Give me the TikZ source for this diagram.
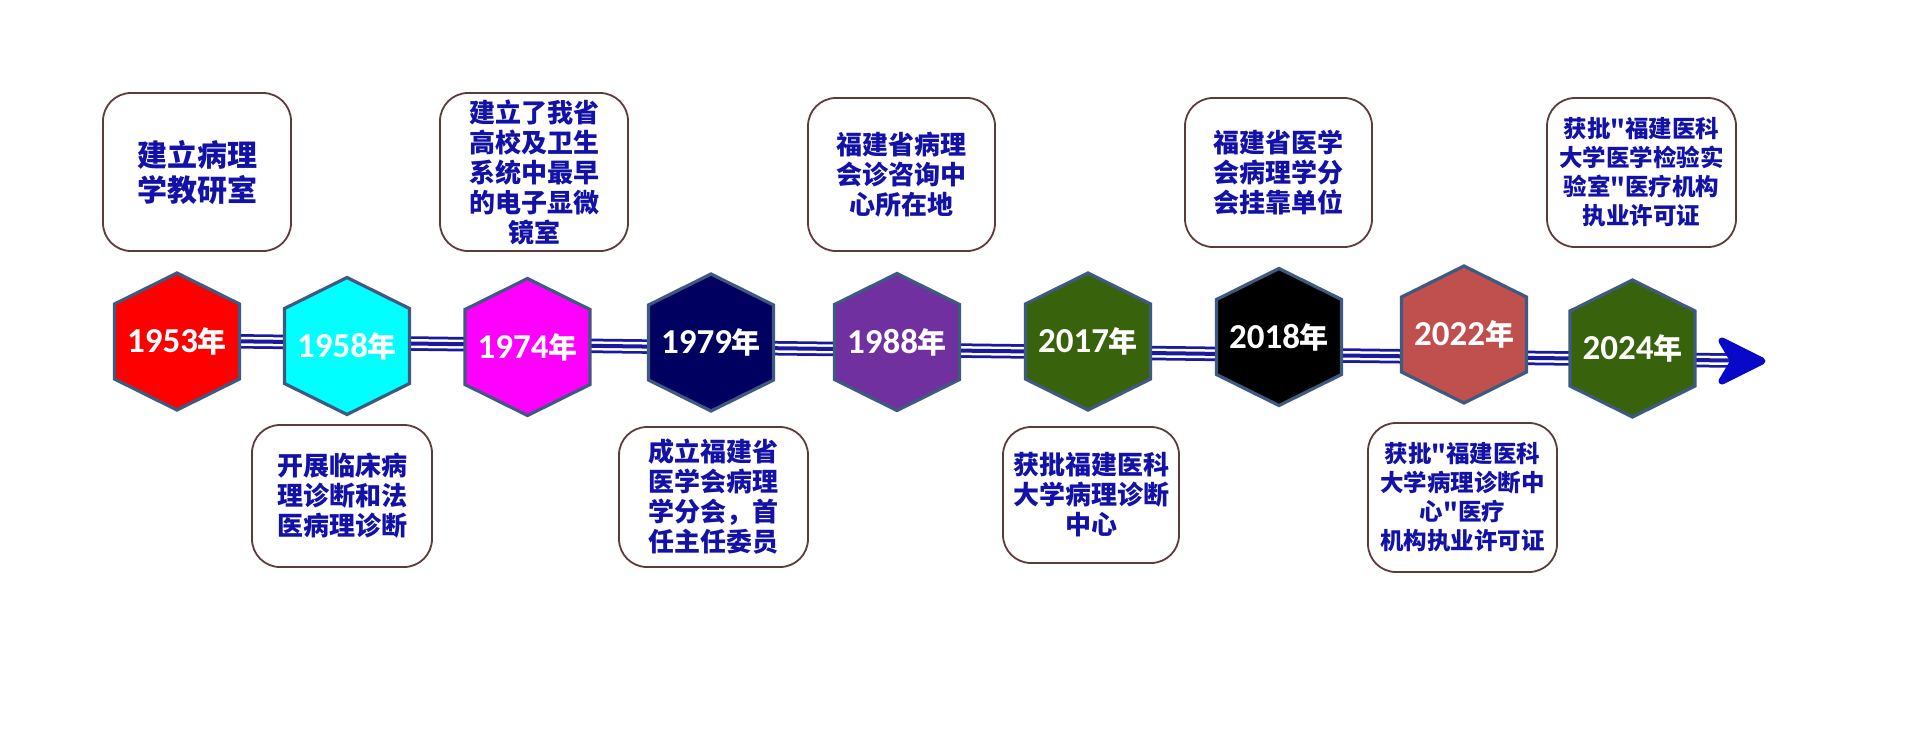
\documentclass[tikz,border=0pt]{standalone}
\usepackage{fontspec}
\newfontfamily\cjkfont{Noto Sans CJK SC}
\newfontfamily\digitfont{Carlito Bold}
\pgfdeclarelayer{tline}
\pgfdeclarelayer{hexlayer}
\pgfsetlayers{tline,hexlayer,main}
\definecolor{txtblue}{HTML}{1212A8}
\definecolor{boxbrd}{HTML}{5C3B3B}
\definecolor{hexbrd}{HTML}{3E5A80}
\definecolor{lineblue}{HTML}{1A1AA0}
\definecolor{arrowblue}{HTML}{0808C8}
\definecolor{hred}{HTML}{FF0000}
\definecolor{hcyan}{HTML}{00FFFF}
\definecolor{hmag}{HTML}{FF00FF}
\definecolor{hnavy}{HTML}{000060}
\definecolor{hpurple}{HTML}{7030A0}
\definecolor{hgreen}{HTML}{38620B}
\definecolor{hblack}{HTML}{000000}
\definecolor{hbrick}{HTML}{C0504D}
\newcommand\yrtext[1]{{\digitfont\fontsize{17.5}{20}\selectfont #1}{\cjkfont\bfseries\fontsize{14.5}{20}\selectfont 年}}
\newcommand\hexfor[2]{\begin{pgfonlayer}{hexlayer}\draw[hexline, fill=#2] (#1.center) +(0,-68.5) -- +(62.5,-37.5) -- +(62.5,37.5) -- +(0,68.5) -- +(-62.5,37.5) -- +(-62.5,-37.5) -- cycle;\end{pgfonlayer}}
\begin{document}
\begin{tikzpicture}[x=0.5pt,y=-0.5pt,
  evbox/.style={draw=boxbrd, line width=0.9pt, fill=white, rounded corners=14pt, text=txtblue,
    font=\cjkfont\bfseries\fontsize{13}{15}\selectfont, align=center, inner sep=0pt},
  bigtext/.style={font=\cjkfont\bfseries\fontsize{15}{17.5}\selectfont},
  smalltext/.style={font=\cjkfont\bfseries\fontsize{11.75}{14.5}\selectfont},
  yearlbl/.style={text=white, inner sep=0pt, align=center},
  hexline/.style={draw=hexbrd, line width=1.6pt, line join=miter},
  tripleline/.style={draw=lineblue, line width=7.25pt,
    postaction={draw=white, line width=4.5pt},
    postaction={draw=lineblue, line width=2pt}},
  arrowhd/.style={fill=arrowblue, draw=arrowblue, line width=3.5pt, line join=round}]
\begin{pgfonlayer}{tline}
\path[fill=white, use as bounding box] (0,0) rectangle (1920,730);
\end{pgfonlayer}

% year hexagons
\node[yearlbl] (y1953) at (177,341.5) {\yrtext{1953}};
\node[yearlbl] (y1958) at (347,346) {\yrtext{1958}};
\node[yearlbl] (y1974) at (527.5,347) {\yrtext{1974}};
\node[yearlbl] (y1979) at (711,342.5) {\yrtext{1979}};
\node[yearlbl] (y1988) at (897,342) {\yrtext{1988}};
\node[yearlbl] (y2017) at (1088,341.5) {\yrtext{2017}};
\node[yearlbl] (y2018) at (1279,337) {\yrtext{2018}};
\node[yearlbl] (y2022) at (1464,334.5) {\yrtext{2022}};
\node[yearlbl] (y2024) at (1632.5,348.5) {\yrtext{2024}};
\hexfor{y1953}{hred}
\hexfor{y1958}{hcyan}
\hexfor{y1974}{hmag}
\hexfor{y1979}{hnavy}
\hexfor{y1988}{hpurple}
\hexfor{y2017}{hgreen}
\hexfor{y2018}{hblack}
\hexfor{y2022}{hbrick}
\hexfor{y2024}{hgreen}

% timeline
\coordinate (tlstart) at (177,340.5);
\coordinate (tlend) at (1738,360.6);
\coordinate (tip) at (1766,361);
\begin{pgfonlayer}{tline}
\draw[tripleline] (tlstart) -- (tlend);
\end{pgfonlayer}
\path[arrowhd] (tip) +(-4,0) -- +(-44,-20) -- +(-32,0) -- +(-44,20) -- cycle;

% event boxes
\node[evbox, bigtext, minimum width=94pt, minimum height=79pt] (b1953) at (197,172) {建立病理\\学教研室};
\node[evbox, minimum width=90pt, minimum height=71pt] (b1958) at (342,496) {开展临床病\\理诊断和法\\医病理诊断};
\node[evbox, minimum width=94pt, minimum height=79pt] (b1974) at (534,172) {建立了我省\\高校及卫生\\系统中最早\\的电子显微\\镜室};
\node[evbox, minimum width=94.5pt, minimum height=70pt] (b1979) at (713.5,497) {成立福建省\\医学会病理\\学分会，首\\任主任委员};
\node[evbox, minimum width=93.5pt, minimum height=76.5pt] (b1988) at (901.5,174.5) {福建省病理\\会诊咨询中\\心所在地};
\node[evbox, minimum width=88pt, minimum height=68pt] (b2017) at (1091,495) {获批福建医科\\大学病理诊断\\中心};
\node[evbox, minimum width=93.5pt, minimum height=74.5pt] (b2018) at (1278.5,172.5) {福建省医学\\会病理学分\\会挂靠单位};
\node[evbox, smalltext, minimum width=94.5pt, minimum height=74.5pt] (b2022) at (1462.5,497.5) {获批"福建医科\\大学病理诊断中\\心"医疗\\机构执业许可证};
\node[evbox, smalltext, minimum width=94.5pt, minimum height=74.5pt] (b2024) at (1641.5,172.5) {获批"福建医科\\大学医学检验实\\验室"医疗机构\\执业许可证};
\end{tikzpicture}
\end{document}
